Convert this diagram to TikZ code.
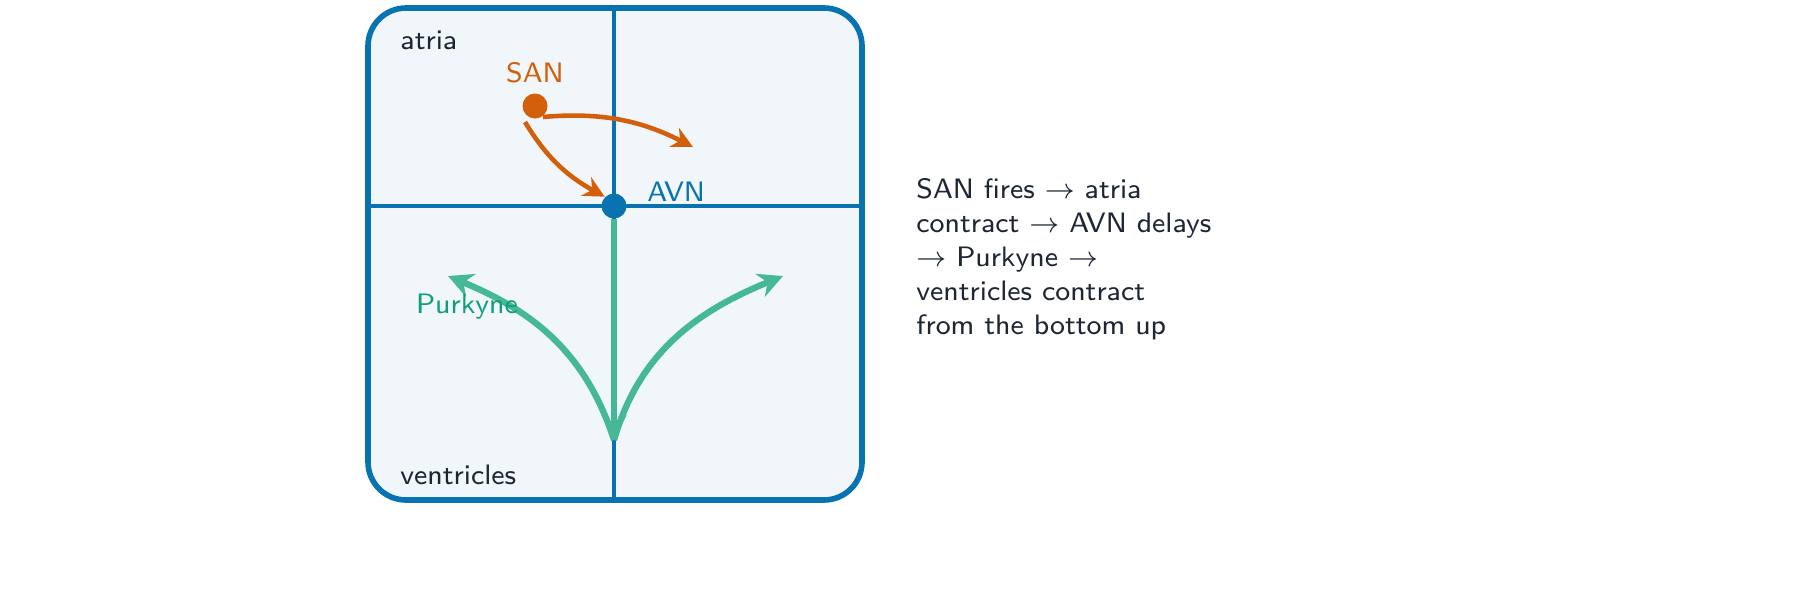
\documentclass[tikz,border=0pt]{standalone}
\usetikzlibrary{arrows.meta}
\definecolor{cblue}{HTML}{0972B0}
\definecolor{corange}{HTML}{D35F0A}
\definecolor{cgreen}{HTML}{129F78}
\definecolor{cgreenl}{HTML}{45B896}
\definecolor{ctext}{HTML}{1E2533}
\definecolor{cfill}{HTML}{F0F6FA}
\begin{document}
\begin{tikzpicture}[x=0.1mm,y=-0.1mm,font=\sffamily,
  lab/.style={font=\sffamily\fontsize{8}{9.7}\selectfont},
  oarr/.style={corange,line width=1.3pt,-{Stealth[length=6pt,width=6pt]}},
  garr/.style={cgreenl,line width=1.8pt,-{Stealth[length=7pt,width=7pt]}}]
\path[use as bounding box] (0,0) rectangle (1800,588);
\draw[cblue,line width=1.6pt,fill=cfill,rounded corners=3.8mm] (368,8) rectangle (862,500);
\coordinate (bn) at (614,8);
\coordinate (bs) at (614,500);
\coordinate (bw) at (368,206);
\coordinate (be) at (862,206);
\draw[cblue,line width=1.1pt] (bn) -- (bs);
\draw[cblue,line width=1.1pt] (bw) -- (be);
\node[lab,ctext,anchor=west] (atria) at (388,40) {atria};
\node[lab,ctext,anchor=west] (vent) at (388,475) {ventricles};
\node[circle,fill=corange,minimum size=2.5mm,inner sep=0] (san) at (535,106) {};
\node[circle,fill=cblue,minimum size=2.5mm,inner sep=0] (avn) at (614,206) {};
\node[lab,corange] (sanl) at (535,73) {SAN};
\node[lab,cblue,anchor=west] (avnl) at (635,192) {AVN};
\coordinate (o1) at (693,147);
\coordinate (o0) at (543,117);
\coordinate (o2) at (525,122);
\draw[oarr] (o0) .. controls (600,112) and (640,120) .. (o1);
\draw[oarr] (o2) .. controls (545,155) and (565,175) .. (avn.north west);
\coordinate (gb) at (614,440);
\coordinate (gl) at (448,276);
\coordinate (gr) at (783,276);
\draw[garr] (avn.south) -- (gb);
\draw[garr] (gb) .. controls (585,350) and (530,310) .. (gl);
\draw[garr] (gb) .. controls (640,350) and (700,310) .. (gr);
\node[lab,cgreen] (pl) at (467,307) {Purkyne};
\node[lab,ctext,anchor=north west,align=left] (txt) at (904,166)
{SAN fires $\rightarrow$ atria\\contract $\rightarrow$ AVN delays\\$\rightarrow$ Purkyne $\rightarrow$\\ventricles contract\\from the bottom up};
\end{tikzpicture}
\end{document}
